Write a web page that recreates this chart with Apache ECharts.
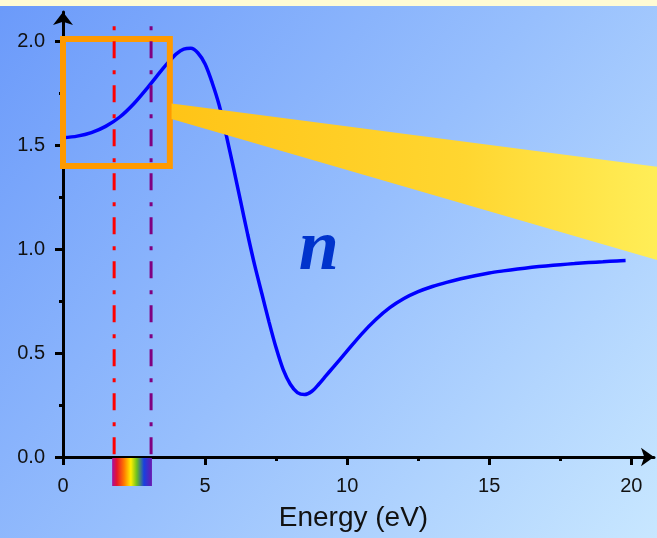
<!DOCTYPE html>
<html><head><meta charset="utf-8">
<script src="https://cdn.jsdelivr.net/npm/echarts@6/dist/echarts.min.js"></script>
<style>html,body{margin:0;padding:0;overflow:hidden;}#c{width:657px;height:538px;}</style>
</head><body><div id="c"></div>
<script>
// ---- data ----
const energy  = [0, 0.5, 1, 1.5, 2, 2.5, 3, 3.5, 3.75, 4, 4.25, 4.5, 4.75, 5, 5.25, 5.5, 5.75, 6, 6.25, 6.5, 6.75, 7, 7.25, 7.5, 7.75,
                 8, 8.25, 8.5, 8.75, 9, 9.25, 9.5, 10, 10.5, 11, 11.5, 12, 12.5, 13, 13.5, 14, 14.5, 15, 15.5, 16, 16.5, 17, 17.5, 18, 18.5, 19, 19.5, 19.8];
const nValues = [1.535, 1.543, 1.56, 1.59, 1.635, 1.70, 1.78, 1.865, 1.905, 1.94, 1.962, 1.966, 1.943, 1.89, 1.80, 1.69, 1.545, 1.39, 1.23, 1.07, 0.92, 0.785, 0.65, 0.525, 0.42,
                 0.35, 0.31, 0.30, 0.315, 0.35, 0.39, 0.43, 0.51, 0.59, 0.66, 0.718, 0.762, 0.795, 0.82, 0.84, 0.857, 0.872, 0.885, 0.895, 0.904, 0.912, 0.919, 0.925, 0.93, 0.935, 0.939, 0.943, 0.945];
const xMajorTicks = [0, 5, 10, 15, 20];
const xMinorTicks = [2.5, 7.5, 12.5, 17.5];
const yMajorTicks = [0, 0.5, 1, 1.5, 2];
const yMinorTicks = [0.25, 0.75, 1.25, 1.75];
const redEdgeE = 1.8;
const violetEdgeE = 3.1;
const markerTopN = 2.072;
const zoomBoxE = [0, 3.76];
const zoomBoxN = [1.40, 2.01];
const wedgeE = [3.82, 21];
const wedgeTopN = [1.70, 1.394];
const wedgeBottomN = [1.625, 0.944];
const spectrumE = [1.73, 3.13];
const spectrumN = [-0.005, -0.139];
const nLabelPos = [9.0, 0.82];
const xTitle = 'Energy (eV)';

const chart = echarts.init(document.getElementById('c'), null, {renderer: 'canvas'});
const font = 'Liberation Sans, Arial, sans-serif';

function vline(e, color) {
  return {
    type: 'line', data: [[e, markerTopN], [e, 0]], showSymbol: false, silent: true, z: 6,
    lineStyle: {color: color, width: 3, type: [17, 12, 4, 11], dashOffset: 29}
  };
}

chart.setOption({
  animation: false,
  graphic: [
    {type: 'rect', z: -100, silent: true, shape: {x: 0, y: 0, width: 657, height: 538},
     style: {fill: new echarts.graphic.LinearGradient(0, 0, 1, 1, [
       {offset: 0, color: '#6b9afa'}, {offset: 0.5, color: '#97bffd'}, {offset: 1, color: '#c8e7ff'}])}},
    {type: 'rect', z: -99, silent: true, shape: {x: 0, y: 0, width: 657, height: 6},
     style: {fill: '#fffbd4'}}
  ],
  grid: {left: 63, right: 3, top: 12, bottom: 81, containLabel: false},
  xAxis: [{
    type: 'value', min: 0, max: 20.8, position: 'bottom',
    axisLine: {show: true, onZero: false, lineStyle: {color: '#000', width: 3}, symbol: ['none', 'arrow'], symbolSize: [14, 13]},
    axisTick: {show: true, inside: false, length: 8, lineStyle: {color: '#000', width: 3}, customValues: xMajorTicks},
    axisLabel: {show: true, margin: 19, fontSize: 20, color: '#111', fontFamily: font, customValues: xMajorTicks},
    splitLine: {show: false},
    name: xTitle, nameLocation: 'middle', nameGap: 47,
    nameTextStyle: {fontSize: 28, color: '#111', fontFamily: font, padding: [0, 10, 0, 0]}
  }, {
    type: 'value', min: 0, max: 20.8, position: 'bottom',
    axisLine: {show: false, onZero: false},
    axisTick: {show: true, length: 4, lineStyle: {color: '#000', width: 3}, customValues: xMinorTicks},
    axisLabel: {show: false}, splitLine: {show: false}
  }],
  yAxis: [{
    type: 'value', min: 0, max: 2.14, position: 'left',
    axisLine: {show: true, onZero: false, lineStyle: {color: '#000', width: 3}, symbol: ['none', 'arrow'], symbolSize: [15, 13]},
    axisTick: {show: true, inside: false, length: 8, lineStyle: {color: '#000', width: 3}, customValues: yMajorTicks},
    axisLabel: {show: true, margin: 18, fontSize: 20, color: '#111', fontFamily: font, customValues: yMajorTicks,
      formatter: v => v.toFixed(1)},
    splitLine: {show: false}
  }, {
    type: 'value', min: 0, max: 2.14, position: 'left',
    axisLine: {show: false, onZero: false},
    axisTick: {show: true, length: 4, lineStyle: {color: '#000', width: 3}, customValues: yMinorTicks},
    axisLabel: {show: false}, splitLine: {show: false}
  }],
  series: [
    {
      type: 'line', data: energy.map((e, i) => [e, nValues[i]]), smooth: 0.3, showSymbol: false, z: 2,
      lineStyle: {color: '#0000ff', width: 3.5}
    },
    {
      type: 'custom', z: 3, silent: true, data: [[0, 0]],
      renderItem: (params, api) => {
        const p0 = api.coord([zoomBoxE[0], zoomBoxN[1]]);
        const p1 = api.coord([zoomBoxE[1], zoomBoxN[0]]);
        return {type: 'rect', shape: {x: p0[0], y: p0[1], width: p1[0] - p0[0], height: p1[1] - p0[1]},
          style: {fill: 'none', stroke: '#ff9a00', lineWidth: 6}};
      }
    },
    {
      type: 'custom', z: 4, silent: true, data: [[0, 0]],
      renderItem: (params, api) => {
        const pts = [api.coord([wedgeE[0], wedgeTopN[0]]), api.coord([wedgeE[1], wedgeTopN[1]]),
                     api.coord([wedgeE[1], wedgeBottomN[1]]), api.coord([wedgeE[0], wedgeBottomN[0]])];
        return {type: 'polygon', shape: {points: pts},
          style: {fill: new echarts.graphic.LinearGradient(0, 0, 1, 0, [
            {offset: 0, color: '#ffc417'}, {offset: 0.6, color: '#ffd630'}, {offset: 1, color: '#ffee58'}])}};
      }
    },
    {
      type: 'custom', z: 5, silent: true, data: [[0, 0]],
      renderItem: (params, api) => {
        const p0 = api.coord([spectrumE[0], spectrumN[0]]);
        const p1 = api.coord([spectrumE[1], spectrumN[1]]);
        return {type: 'rect', shape: {x: p0[0], y: p0[1], width: p1[0] - p0[0], height: p1[1] - p0[1]},
          style: {fill: new echarts.graphic.LinearGradient(0, 0, 1, 0, [
            {offset: 0, color: '#a8109e'}, {offset: 0.12, color: '#e8142c'}, {offset: 0.3, color: '#ff7a00'},
            {offset: 0.47, color: '#fff000'}, {offset: 0.62, color: '#6cc020'}, {offset: 0.8, color: '#1840e0'},
            {offset: 1, color: '#6a18b0'}])}};
      }
    },
    vline(redEdgeE, '#ff0000'),
    vline(violetEdgeE, '#800080'),
    {
      type: 'custom', z: 7, silent: true, data: [[0, 0]],
      renderItem: (params, api) => {
        const p = api.coord(nLabelPos);
        return {type: 'text', x: p[0], y: p[1],
          style: {text: 'n', fill: '#0033cc', font: 'italic bold 72px "Liberation Serif", "DejaVu Serif", serif',
            align: 'center', verticalAlign: 'bottom'}};
      }
    }
  ]
});
</script>
</body></html>
